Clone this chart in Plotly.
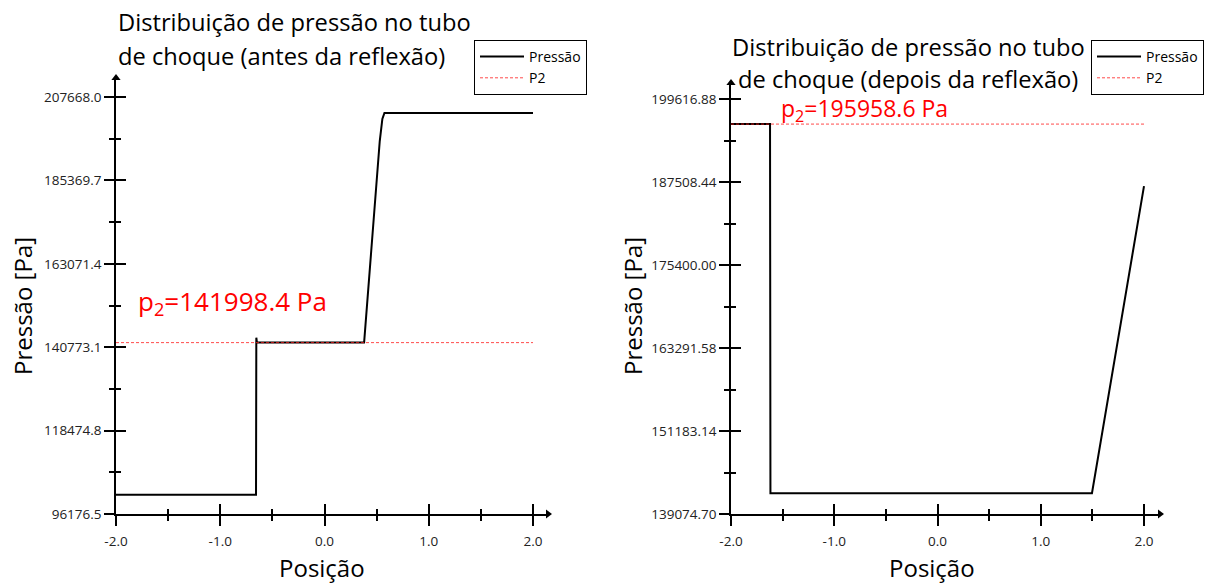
import plotly.graph_objects as go

# ---- pressure profile before the reflection (left panel) ----
pos_antes = [-2.0, -0.657, -0.654, -0.648, 0.38, 0.53, 0.555, 0.575, 2.0]
p_antes = [101325.0, 101325.0, 143300.0, 141998.4, 141998.4, 195900.0, 201800.0, 203400.0, 203400.0]
p2_antes = 141998.4

# ---- pressure profile after the reflection (right panel) ----
pos_depois = [-2.0, -1.622, -1.618, 1.496, 2.0]
p_depois = [195958.6, 195958.6, 142100.0, 142100.0, 186900.0]
p2_depois = 195958.6

# ---- axis ticks ----
x_ticks = [-2.0, -1.0, 0.0, 1.0, 2.0]
x_ticktext = ["-2.0", "-1.0", "0.0", "1.0", "2.0"]
x_minor = [-1.5, -0.5, 0.5, 1.5]

y_ticks_antes = [96176.5, 118474.8, 140773.1, 163071.4, 185369.7, 207668.0]
y_ticktext_antes = ["96176.5", "118474.8", "140773.1", "163071.4", "185369.7", "207668.0"]
y_ticks_depois = [139074.70, 151183.14, 163291.58, 175400.00, 187508.44, 199616.88]
y_ticktext_depois = ["139074.70", "151183.14", "163291.58", "175400.00", "187508.44", "199616.88"]

titulo_antes = ["Distribuição de pressão no tubo", "de choque (antes da reflexão)"]
titulo_depois = ["Distribuição de pressão no tubo", "de choque (depois da reflexão)"]
eixo_x = "Posição"
eixo_y = "Pressão [Pa]"

W, H = 1206, 583
FONT = "Open Sans"


def midpoints(v):
    return [(a + b) / 2 for a, b in zip(v[:-1], v[1:])]


# plot areas in pixels: (left, right, top, bottom)
box_l = (116, 548, 78, 514)
box_r = (731, 1160, 83, 514)


def dom_x(b):
    return [b[0] / W, b[1] / W]


def dom_y(b):
    return [1 - b[3] / H, 1 - b[2] / H]


# axis ranges: data starts at the axis origin, axes run a little past the last tick
xr_l = [-2.0, -2.0 + (box_l[1] - box_l[0]) * 4.0 / 417.0]
yr_l = [y_ticks_antes[0], y_ticks_antes[0] + (box_l[3] - box_l[2]) * (y_ticks_antes[-1] - y_ticks_antes[0]) / 417.0]
xr_r = [-2.0, -2.0 + (box_r[1] - box_r[0]) * 4.0 / 413.0]
yr_r = [y_ticks_depois[0], y_ticks_depois[0] + (box_r[3] - box_r[2]) * (y_ticks_depois[-1] - y_ticks_depois[0]) / 415.0]

fig = go.Figure()

# left panel
fig.add_trace(go.Scatter(x=pos_antes, y=p_antes, mode="lines", name="Pressão",
                         line=dict(color="black", width=2), xaxis="x", yaxis="y", legend="legend"))
fig.add_trace(go.Scatter(x=[pos_antes[0], pos_antes[-1]], y=[p2_antes, p2_antes], mode="lines", name="P2",
                         line=dict(color="rgba(255,30,30,0.8)", width=1, dash="3px,2px"),
                         xaxis="x", yaxis="y", legend="legend"))
# right panel
fig.add_trace(go.Scatter(x=pos_depois, y=p_depois, mode="lines", name="Pressão",
                         line=dict(color="black", width=2), xaxis="x2", yaxis="y2", legend="legend2"))
fig.add_trace(go.Scatter(x=[pos_depois[0], pos_depois[-1]], y=[p2_depois, p2_depois], mode="lines", name="P2",
                         line=dict(color="rgba(255,30,30,0.8)", width=1, dash="3px,2px"),
                         xaxis="x2", yaxis="y2", legend="legend2"))

# arrow heads at the ends of the axes
for xa, ya, xr, yr in (("x", "y", xr_l, yr_l), ("x2", "y2", xr_r, yr_r)):
    fig.add_trace(go.Scatter(x=[xr[1]], y=[yr[0]], mode="markers", showlegend=False, hoverinfo="skip",
                             marker=dict(symbol="triangle-right", size=8, color="black"),
                             cliponaxis=False, xaxis=xa, yaxis=ya))
    fig.add_trace(go.Scatter(x=[xr[0]], y=[yr[1]], mode="markers", showlegend=False, hoverinfo="skip",
                             marker=dict(symbol="triangle-up", size=8, color="black"),
                             cliponaxis=False, xaxis=xa, yaxis=ya))

# empty traces to hold the inner-tick overlay axes
for xa, ya in (("x3", "y"), ("x", "y3"), ("x4", "y2"), ("x2", "y4")):
    fig.add_trace(go.Scatter(x=[], y=[], showlegend=False, hoverinfo="skip", xaxis=xa, yaxis=ya))

tickfont = dict(family=FONT, size=13.5, color="#222")
titlefont = dict(family=FONT, size=23.7, color="black")
axisfont = dict(family=FONT, size=24, color="black")


def xaxis(dom, rng, anchor, side_ticks, labels, overlay=None):
    d = dict(domain=dom, range=rng, anchor=anchor, showgrid=False, zeroline=False, automargin=False,
             tickmode="array", tickvals=x_ticks, ticktext=x_ticktext,
             ticks=side_ticks, ticklen=10, tickwidth=1.5, tickcolor="black", ticklabelstandoff=4,
             minor=dict(tickvals=x_minor, ticks=side_ticks, ticklen=5, tickwidth=1.5, tickcolor="black"),
             showticklabels=labels, tickfont=tickfont, fixedrange=True)
    if overlay:
        d.update(overlaying=overlay, showline=False)
    else:
        d.update(showline=True, linecolor="black", linewidth=1.5)
    return d


def yaxis(dom, rng, anchor, vals, text, side_ticks, labels, overlay=None):
    d = dict(domain=dom, range=rng, anchor=anchor, showgrid=False, zeroline=False, automargin=False,
             tickmode="array", tickvals=vals, ticktext=text,
             ticks=side_ticks, ticklen=10, tickwidth=1.5, tickcolor="black",
             minor=dict(tickvals=midpoints(vals), ticks=side_ticks, ticklen=5, tickwidth=1.5, tickcolor="black"),
             showticklabels=labels, tickfont=tickfont, fixedrange=True)
    if overlay:
        d.update(overlaying=overlay, showline=False, side="left")
    else:
        d.update(showline=True, linecolor="black", linewidth=1.5)
    return d


legend_style = dict(xanchor="left", yanchor="top", bordercolor="black", borderwidth=1, bgcolor="white",
                    font=dict(family=FONT, size=14, color="black"), itemwidth=44, tracegroupgap=0)

fig.update_layout(
    width=W, height=H,
    margin=dict(l=0, r=0, t=0, b=0),
    paper_bgcolor="white", plot_bgcolor="white",
    font=dict(family=FONT, color="black"),
    xaxis=xaxis(dom_x(box_l), xr_l, "y", "outside", True),
    yaxis=yaxis(dom_y(box_l), yr_l, "x", y_ticks_antes, y_ticktext_antes, "outside", True),
    xaxis2=xaxis(dom_x(box_r), xr_r, "y2", "outside", True),
    yaxis2=yaxis(dom_y(box_r), yr_r, "x2", y_ticks_depois, y_ticktext_depois, "outside", True),
    xaxis3=xaxis(dom_x(box_l), xr_l, "y", "inside", False, overlay="x"),
    yaxis3=yaxis(dom_y(box_l), yr_l, "x", y_ticks_antes, y_ticktext_antes, "inside", False, overlay="y"),
    xaxis4=xaxis(dom_x(box_r), xr_r, "y2", "inside", False, overlay="x2"),
    yaxis4=yaxis(dom_y(box_r), yr_r, "x2", y_ticks_depois, y_ticktext_depois, "inside", False, overlay="y2"),
    legend=dict(x=474 / W, y=1 - 40 / H, **legend_style),
    legend2=dict(x=1091 / W, y=1 - 40 / H, **legend_style),
    showlegend=True,
)

# panel titles
for txt, xp, yp, anchor in ((titulo_antes[0], 116, 22, "left"), (titulo_antes[1], 116, 56, "left"),
                            (titulo_depois[0], 908, 47, "center"), (titulo_depois[1], 908, 79, "center")):
    fig.add_annotation(text=txt, xref="paper", yref="paper", x=xp / W, y=1 - yp / H,
                       xanchor=anchor, yanchor="middle", showarrow=False, font=titlefont)

# axis titles
for xp in (322, 932):
    fig.add_annotation(text=eixo_x, xref="paper", yref="paper", x=xp / W, y=1 - 567 / H,
                       xanchor="center", yanchor="middle", showarrow=False, font=axisfont)
for xp in (22, 632):
    fig.add_annotation(text=eixo_y, xref="paper", yref="paper", x=xp / W, y=1 - 306 / H,
                       xanchor="center", yanchor="middle", textangle=-90, showarrow=False, font=axisfont)

# p2 value labels
fig.add_annotation(text=f"p<sub>2</sub>={p2_antes:.1f} Pa", xref="paper", yref="paper",
                   x=136 / W, y=1 - 302 / H, xanchor="left", yanchor="middle", showarrow=False,
                   font=dict(family=FONT, size=26, color="red"))
fig.add_annotation(text=f"p<sub>2</sub>={p2_depois:.1f} Pa", xref="paper", yref="paper",
                   x=779 / W, y=1 - 109 / H, xanchor="left", yanchor="middle", showarrow=False,
                   font=dict(family=FONT, size=23, color="red"))

fig.write_html("out.html")
